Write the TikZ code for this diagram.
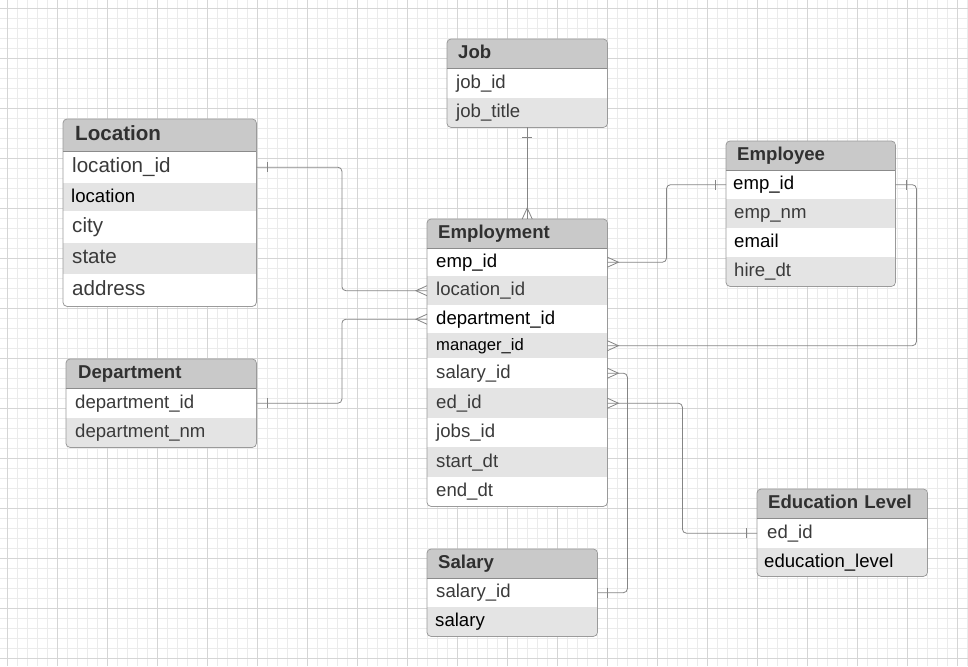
\documentclass[tikz,border=0pt]{standalone}
\usepackage{fontspec}
\setmainfont{Liberation Sans}
\usetikzlibrary{calc}
\definecolor{minorg}{HTML}{EBEBEB}
\definecolor{majorg}{HTML}{D5D5D5}
\definecolor{hdrfill}{HTML}{C9C9C9}
\definecolor{altfill}{HTML}{E4E4E4}
\definecolor{bordc}{HTML}{9A9A9A}
\definecolor{linec}{HTML}{858585}
\definecolor{txt}{HTML}{3A3A3A}
\definecolor{hdrtxt}{HTML}{303030}
\newcommand\efs[1]{\fontsize{#1}{#1}\selectfont}
% name, x, ytop, width, height, fill, pad, options, text
\newcommand\erow[9]{%
  \pgfmathsetmacro\erowtw{#4-2*#7}%
  \node[rowbox,fill=#6,inner xsep=#7pt,text width=\erowtw pt,minimum height=#5pt,#8] (#1) at (#2,#3) {#9};}
\newcommand\crowH[2]{\draw[conn] ($(#1)+(0,-5)$) -- ($(#1)+(#2,0)$) -- ($(#1)+(0,5)$);}
\newcommand\crowV[2]{\draw[conn] ($(#1)+(-5,0)$) -- ($(#1)+(0,#2)$) -- ($(#1)+(5,0)$);}
\newcommand\barH[2]{\draw[conn] ($(#1)+(#2,-5)$) -- ($(#1)+(#2,5)$);}
\newcommand\barV[2]{\draw[conn] ($(#1)+(-5,#2)$) -- ($(#1)+(5,#2)$);}
\begin{document}
\begin{tikzpicture}[x=1pt,y=-1pt,
  rowbox/.style={rectangle,anchor=north west,inner ysep=0pt,align=left,
    text height=14pt,text depth=4pt,font=\efs{18.6},text=txt},
  hdr/.style={font=\bfseries\efs{18.6},text=hdrtxt},
  blk/.style={text=black},
  tborder/.style={draw=bordc,line width=0.8pt,rounded corners=4pt},
  hsep/.style={draw=bordc!90!black,line width=0.8pt},
  conn/.style={draw=linec,line width=0.8pt},
  link/.style={conn,rounded corners=4pt}]
\useasboundingbox (0,0) rectangle (968,666);
\fill[white] (0,0) rectangle (968,666);
% grid
\foreach \gx in {7.3,17.3,...,967.3} \draw[minorg,line width=0.8pt] (\gx,0) -- (\gx,666);
\foreach \gy in {8.3,18.3,...,666} \draw[minorg,line width=0.8pt] (0,\gy) -- (968,\gy);
\foreach \gx in {7.3,57.3,...,967.3} \draw[majorg,line width=0.8pt] (\gx,0) -- (\gx,666);
\foreach \gy in {8.3,58.3,...,666} \draw[majorg,line width=0.8pt] (0,\gy) -- (968,\gy);

% ---------- Location
\begin{scope}
\clip[rounded corners=4pt] (63,119) rectangle (256,306);
\erow{loch}{63}{119}{193}{32}{hdrfill}{12}{hdr,font=\bfseries\efs{20.6}}{Location}
\erow{loc1}{63}{151}{193}{32}{white}{9}{font=\efs{20.6}}{location\_id}
\erow{loc2}{63}{183}{193}{28}{altfill}{8}{blk}{location}
\erow{loc3}{63}{211}{193}{32}{white}{9}{font=\efs{20.6}}{city}
\erow{loc4}{63}{243}{193}{31}{altfill}{9}{font=\efs{20.6}}{state}
\erow{loc5}{63}{274}{193}{32}{white}{9}{font=\efs{20.6}}{address}
\end{scope}
\draw[tborder] (loch.north west) rectangle (loc5.south east);
\draw[hsep] (loch.south west) -- (loch.south east);

% ---------- Job
\begin{scope}
\clip[rounded corners=4pt] (447,39) rectangle (607,127);
\erow{jobh}{447}{39}{160}{29}{hdrfill}{11}{hdr}{Job}
\erow{job1}{447}{68}{160}{30}{white}{9}{}{job\_id}
\erow{job2}{447}{98}{160}{29}{altfill}{9}{}{job\_title}
\end{scope}
\draw[tborder] (jobh.north west) rectangle (job2.south east);
\draw[hsep] (jobh.south west) -- (jobh.south east);

% ---------- Employee
\begin{scope}
\clip[rounded corners=4pt] (726,141) rectangle (895,286);
\erow{eeh}{726}{141}{169}{29}{hdrfill}{11}{hdr}{Employee}
\erow{ee1}{726}{170}{169}{29}{white}{7}{blk}{emp\_id}
\erow{ee2}{726}{199}{169}{29}{altfill}{8}{}{emp\_nm}
\erow{ee3}{726}{228}{169}{29}{white}{8}{blk}{email}
\erow{ee4}{726}{257}{169}{29}{altfill}{8}{}{hire\_dt}
\end{scope}
\draw[tborder] (eeh.north west) rectangle (ee4.south east);
\draw[hsep] (eeh.south west) -- (eeh.south east);

% ---------- Employment
\begin{scope}
\clip[rounded corners=4pt] (427,219) rectangle (607,506);
\erow{emh}{427}{219}{180}{29}{hdrfill}{11}{hdr}{Employment}
\erow{em1}{427}{248}{180}{28}{white}{9}{blk}{emp\_id}
\erow{em2}{427}{276}{180}{29}{altfill}{9}{}{location\_id}
\erow{em3}{427}{305}{180}{28}{white}{9}{blk}{department\_id}
\erow{em4}{427}{333}{180}{25}{altfill}{9}{blk,font=\efs{16.6}}{manager\_id}
\erow{em5}{427}{358}{180}{30}{white}{9}{}{salary\_id}
\erow{em6}{427}{388}{180}{30}{altfill}{9}{}{ed\_id}
\erow{em7}{427}{418}{180}{29}{white}{9}{}{jobs\_id}
\erow{em8}{427}{447}{180}{30}{altfill}{9}{}{start\_dt}
\erow{em9}{427}{477}{180}{29}{white}{9}{}{end\_dt}
\end{scope}
\draw[tborder] (emh.north west) rectangle (em9.south east);
\draw[hsep] (emh.south west) -- (emh.south east);

% ---------- Department
\begin{scope}
\clip[rounded corners=4pt] (66,359) rectangle (256,447);
\erow{dph}{66}{359}{190}{29}{hdrfill}{12}{hdr}{Department}
\erow{dp1}{66}{388}{190}{30}{white}{9}{}{department\_id}
\erow{dp2}{66}{418}{190}{29}{altfill}{9}{}{department\_nm}
\end{scope}
\draw[tborder] (dph.north west) rectangle (dp2.south east);
\draw[hsep] (dph.south west) -- (dph.south east);

% ---------- Salary
\begin{scope}
\clip[rounded corners=4pt] (427,549) rectangle (597,636);
\erow{sah}{427}{549}{170}{29}{hdrfill}{11}{hdr}{Salary}
\erow{sa1}{427}{578}{170}{29}{white}{9}{}{salary\_id}
\erow{sa2}{427}{607}{170}{29}{altfill}{8}{blk}{salary}
\end{scope}
\draw[tborder] (sah.north west) rectangle (sa2.south east);
\draw[hsep] (sah.south west) -- (sah.south east);

% ---------- Education Level
\begin{scope}
\clip[rounded corners=4pt] (757,489) rectangle (927,576);
\erow{edh}{757}{489}{170}{29}{hdrfill}{11}{hdr}{Education Level}
\erow{ed1}{757}{518}{170}{30}{white}{10}{}{ed\_id}
\erow{ed2}{757}{548}{170}{28}{altfill}{7}{blk}{education\_level}
\end{scope}
\draw[tborder] (edh.north west) rectangle (ed2.south east);
\draw[hsep] (edh.south west) -- (edh.south east);

% ---------- connectors
% Location -> Employment
\draw[link] (loc1.east) -- ++(85.5,0) |- (em2.west);
\barH{loc1.east}{11}
\crowH{em2.west}{-11}
% Department -> Employment
\draw[link] (dp1.east) -- ++(85.5,0) |- (em3.west);
\barH{dp1.east}{11}
\crowH{em3.west}{-11}
% Job -> Employment
\draw[link] (job2.south) -- (job2.south |- emh.north);
\barV{job2.south}{10}
\crowV{job2.south |- emh.north}{-11}
% Employee -> Employment (emp_id)
\draw[link] (ee1.west) -- ++(-59.5,0) |- (em1.east);
\barH{ee1.west}{-11}
\crowH{em1.east}{11}
% Employee -> Employment (manager_id)
\draw[link] (ee1.east) -- ++(21,0) |- (em4.east);
\barH{ee1.east}{11}
\crowH{em4.east}{11}
% Salary -> Employment
\draw[link] (em5.east) -- ++(20,0) |- (sa1.east);
\crowH{em5.east}{11}
\barH{sa1.east}{10}
% Education Level -> Employment
\draw[link] (em6.east) -- ++(75,0) |- (ed1.west);
\crowH{em6.east}{11}
\barH{ed1.west}{-11}
\end{tikzpicture}
\end{document}
